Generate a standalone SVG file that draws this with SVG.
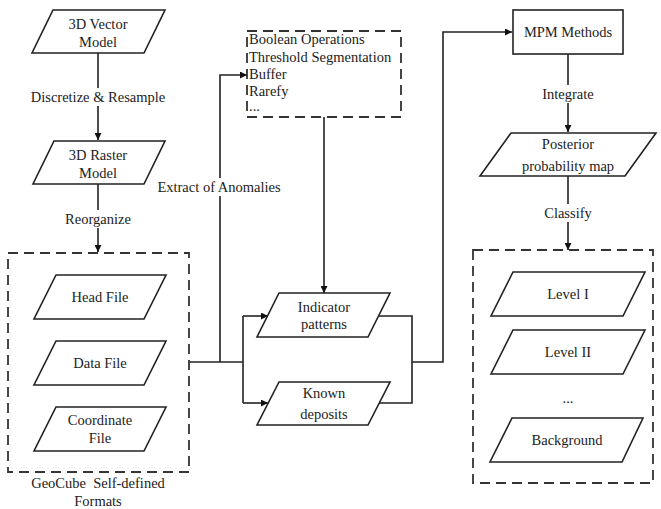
<svg xmlns="http://www.w3.org/2000/svg" width="661" height="509" viewBox="0 0 661 509" font-family="'Liberation Serif', 'Times New Roman', 'DejaVu Serif', serif">
<style>
.s{fill:#fff;stroke:#222;stroke-width:1.6}
.d{fill:none;stroke:#333;stroke-width:1.8;stroke-dasharray:10,6}
.c{fill:none;stroke:#222;stroke-width:1.6}
text{font-family:'Liberation Serif','Times New Roman','DejaVu Serif',serif;font-size:14.5px;fill:#222}
.m{text-anchor:middle}
</style>
<defs>
<marker id="a" viewBox="0 0 10 10" refX="10" refY="5" markerWidth="7" markerHeight="7" markerUnits="userSpaceOnUse" orient="auto"><path d="M0,0L10,5L0,10z" fill="#111"/></marker>
</defs>
<rect width="661" height="509" fill="#fff"/>
<g id="connectors">
<path class="c" d="M98,53V140" marker-end="url(#a)"/>
<path class="c" d="M98,184V252" marker-end="url(#a)"/>
<path class="c" d="M189,362H243"/>
<path class="c" d="M220,362V75H247" marker-end="url(#a)"/>
<path class="c" d="M243,316V403"/>
<path class="c" d="M243,316H268" marker-end="url(#a)"/>
<path class="c" d="M243,403H268" marker-end="url(#a)"/>
<path class="c" d="M324,117V293" marker-end="url(#a)"/>
<path class="c" d="M379,316H412V403H379"/>
<path class="c" d="M412,362H443V32H512" marker-end="url(#a)"/>
<path class="c" d="M568,54V132" marker-end="url(#a)"/>
<path class="c" d="M568,176V250" marker-end="url(#a)"/>
<rect x="36" y="88" width="124" height="18" fill="#fff"/>
<text class="m" x="98" y="102">Discretize &amp; Resample</text>
<rect x="62" y="210" width="72" height="18" fill="#fff"/>
<text class="m" x="98" y="224">Reorganize</text>
<rect x="153" y="178" width="132" height="18" fill="#fff"/>
<text class="m" x="219" y="192">Extract of Anomalies</text>
<rect x="535" y="85" width="66" height="18" fill="#fff"/>
<text class="m" x="568" y="99">Integrate</text>
<rect x="540" y="204" width="56" height="18" fill="#fff"/>
<text class="m" x="568" y="218">Classify</text>
</g>
<g id="vector-model">
<polygon class="s" points="53,10 165,10 144,53 32,53"/>
<text class="m" x="98" y="29">3D Vector</text>
<text class="m" x="98" y="47">Model</text>
</g>
<g id="raster-model">
<polygon class="s" points="54,141 165,141 144,184 33,184"/>
<text class="m" x="98" y="160">3D Raster</text>
<text class="m" x="98" y="178">Model</text>
</g>
<g id="geocube">
<rect class="d" x="8" y="253" width="181" height="219"/>
<text class="m" x="98" y="488">GeoCube&#160; Self-defined</text>
<text class="m" x="98" y="506">Formats</text>
</g>
<g id="head-file">
<polygon class="s" points="56,275 166,275 144,319 34,319"/>
<text class="m" x="100" y="302">Head File</text>
</g>
<g id="data-file">
<polygon class="s" points="56,341 166,341 144,385 34,385"/>
<text class="m" x="100" y="368">Data File</text>
</g>
<g id="coordinate-file">
<polygon class="s" points="56,407 166,407 144,451 34,451"/>
<text class="m" x="100" y="425">Coordinate</text>
<text class="m" x="100" y="443">File</text>
</g>
<g id="operations">
<rect class="d" x="247" y="31" width="154" height="86"/>
<text x="249" y="44">Boolean Operations</text>
<text x="249" y="62">Threshold Segmentation</text>
<text x="249" y="79">Buffer</text>
<text x="249" y="96">Rarefy</text>
<text x="249" y="111">...</text>
</g>
<g id="indicator-patterns">
<polygon class="s" points="279,293 390,293 368,337 257,337"/>
<text class="m" x="324" y="312">Indicator</text>
<text class="m" x="324" y="329">patterns</text>
</g>
<g id="known-deposits">
<polygon class="s" points="279,382 390,382 368,425 257,425"/>
<text class="m" x="324" y="398">Known</text>
<text class="m" x="324" y="419">deposits</text>
</g>
<g id="mpm-methods">
<rect class="s" x="513" y="10" width="110" height="44"/>
<text class="m" x="568" y="37">MPM Methods</text>
</g>
<g id="posterior-map">
<polygon class="s" points="511,133 656,133 625,176 480,176"/>
<text class="m" x="568" y="149">Posterior</text>
<text class="m" x="568" y="171">probability map</text>
</g>
<g id="levels">
<rect class="d" x="473" y="250" width="180" height="233"/>
</g>
<g id="level-1">
<polygon class="s" points="513,272 645,272 623,316 491,316"/>
<text class="m" x="568" y="299">Level I</text>
</g>
<g id="level-2">
<polygon class="s" points="513,330 645,330 623,374 491,374"/>
<text class="m" x="568" y="357">Level II</text>
</g>
<g id="ellipsis">
<text class="m" x="568" y="403">...</text>
</g>
<g id="background">
<polygon class="s" points="512,418 643,418 622,462 490,462"/>
<text class="m" x="567" y="445">Background</text>
</g>
</svg>
